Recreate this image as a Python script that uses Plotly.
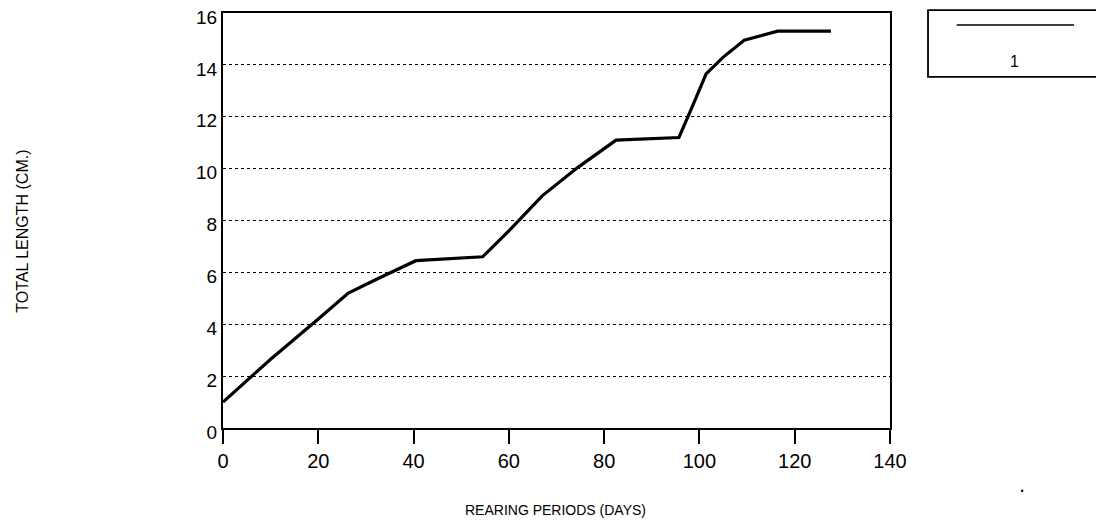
import plotly.graph_objects as go

# Data
days = [0, 10, 20, 26.3, 33, 40.5, 54.5, 60, 67, 74.5, 82.5, 95.7, 98.3, 101.4, 105, 109.4, 116.4, 127.6]
length_cm = [1.0, 2.65, 4.2, 5.2, 5.8, 6.45, 6.6, 7.6, 8.95, 10.05, 11.1, 11.2, 12.3, 13.65, 14.3, 14.95, 15.3, 15.3]
x_ticks = [0, 20, 40, 60, 80, 100, 120, 140]
y_ticks = [0, 2, 4, 6, 8, 10, 12, 14, 16]
series_name = "1"

FONT = "Liberation Sans"

fig = go.Figure()
fig.add_trace(go.Scatter(x=days, y=length_cm, mode="lines", name=series_name,
                         line=dict(color="black", width=3.2), showlegend=False))

fig.update_layout(
    width=1104, height=527,
    margin=dict(l=215, r=222, t=5, b=107, autoexpand=False),
    paper_bgcolor="white", plot_bgcolor="white",
    font=dict(family=FONT, size=17, color="black"),
    xaxis=dict(range=[0, 140], tickvals=x_ticks, ticks="outside", ticklen=14, tickwidth=1.5,
               tickcolor="black", showline=True, linecolor="black", linewidth=2, mirror=True,
               showgrid=False, zeroline=False, automargin=False, ticklabeloverflow="allow",
               tickfont=dict(size=20, family=FONT)),
    yaxis=dict(range=[0, 16], tickvals=y_ticks, ticks="", showline=True, linecolor="black",
               linewidth=2, mirror=True, showgrid=True, gridcolor="black", gridwidth=1.2,
               griddash="dot", zeroline=False, automargin=False, ticklabeloverflow="allow",
               ticklabelshift=4, tickfont=dict(size=19, family=FONT)),
    annotations=[
        dict(text="REARING PERIODS (DAYS)", x=0.498, y=-0.198, xref="paper", yref="paper",
             xanchor="center", yanchor="middle",
             showarrow=False, font=dict(size=14, family=FONT)),
        dict(text="TOTAL LENGTH (CM.)", x=-0.30, y=0.475, xref="paper", yref="paper",
             xanchor="center", yanchor="middle",
             showarrow=False, textangle=-90, font=dict(size=16, family=FONT)),
        dict(text=series_name, x=1.187, y=0.882, xref="paper", yref="paper",
             xanchor="center", yanchor="middle",
             showarrow=False, font=dict(size=16, family=FONT)),
        dict(text=".", x=1.198, y=-0.137, xref="paper", yref="paper",
             xanchor="center", yanchor="middle",
             showarrow=False, font=dict(size=22, family=FONT)),
    ],
    shapes=[
        dict(type="rect", xref="paper", yref="paper", x0=1.057, x1=1.316, y0=0.846, y1=1.007,
             line=dict(color="black", width=1.8)),
        dict(type="line", xref="paper", yref="paper", x0=1.100, x1=1.276, y0=0.971, y1=0.971,
             line=dict(color="black", width=1.5)),
    ],
)

fig.write_html("out.html")
